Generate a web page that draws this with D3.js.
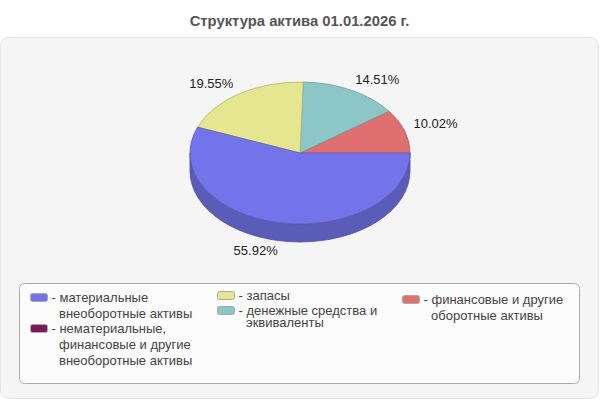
<!DOCTYPE html>
<html>
<head>
<meta charset="utf-8">
<style>
html, body {
  margin: 0;
  padding: 0;
  background: #fff;
}

svg {
  display: block;
}

text {
  font-family: "Liberation Sans", Arial, sans-serif;
}

.title {
  fill: #555;
  font-size: 14.8px;
  font-weight: bold;
  text-anchor: middle;
}

.pct {
  fill: #222;
  font-size: 13px;
  text-anchor: middle;
}

.legend-text {
  fill: #444;
  font-size: 13px;
}
</style>
</head>
<body>
<div id="chart"></div>
<script src="https://cdn.jsdelivr.net/npm/d3@7"></script>
<script>

var chartTitle = "Структура актива 01.01.2026 г.";

// pie runs counter-clockwise from 3 o'clock, same order as here
var sliceNames = ["финансовые и другие оборотные активы", "денежные средства и эквиваленты", "запасы", "материальные внеоборотные активы"];
var sliceValues = [10.02, 14.51, 19.55, 55.92];
var sliceLabels = ["10.02%", "14.51%", "19.55%", "55.92%"];

var legendLines = [
  ["- материальные", "внеоборотные активы"],
  ["- нематериальные,", "финансовые и другие", "внеоборотные активы"],
  ["- запасы"],
  ["- денежные средства и", "эквиваленты"],
  ["- финансовые и другие", "оборотные активы"]
];

var sliceColors = ["#e07070", "#8cc6c6", "#e6e691", "#7474ea"];
var legendColors = ["#7474ea", "#7a1a5a", "#e6e691", "#8cc6c6", "#e07070"];

// legend layout: swatch x, first baseline y, line height
var legendPos = [
  { x: 30.5, y: 302, lh: 16 },
  { x: 30.5, y: 333, lh: 16 },
  { x: 217.5, y: 300, lh: 16 },
  { x: 217.5, y: 315, lh: 12 },
  { x: 402.5, y: 304, lh: 16 }
];

var labelOffsets = [[31, -3], [26, -6], [-28, -6], [-24, 14]];

var width = 600,
    height = 400,
    cx = 300,
    cy = 153,
    rx = 110,
    ry = 71,
    depth = 18;

var svg = d3.select("#chart").append("svg")
    .attr("width", width)
    .attr("height", height);

svg.append("rect")
    .attr("x", 0.5)
    .attr("y", 37.5)
    .attr("width", 598)
    .attr("height", 361)
    .attr("rx", 8)
    .attr("fill", "#f5f5f5")
    .attr("stroke", "#e6e6e6");

svg.append("text")
    .attr("class", "title")
    .attr("x", 299.5)
    .attr("y", 26)
    .text(chartTitle);

// rim of the pie, only the front half shows
var rim = d3.path();
rim.moveTo(cx - rx, cy);
rim.lineTo(cx - rx, cy + depth);
var rimPath = rim.toString() +
    "A" + rx + "," + ry + " 0 0 0 " + (cx + rx) + "," + (cy + depth) +
    "L" + (cx + rx) + "," + cy +
    "A" + rx + "," + ry + " 0 0 1 " + (cx - rx) + "," + cy + "Z";

svg.append("path")
    .attr("d", rimPath)
    .attr("fill", "#5b5bb8")
    .attr("stroke", "#4d4da6")
    .attr("stroke-width", 0.8);

var pie = d3.pie()
    .sort(null)
    .startAngle(Math.PI / 2)
    .endAngle(-1.5 * Math.PI);

var arc = d3.arc().innerRadius(0).outerRadius(rx);

var arcs = pie(sliceValues);

// circle squashed into an ellipse, stroke stays even
var pieG = svg.append("g")
    .attr("transform", "translate(" + cx + "," + cy + ") scale(1," + (ry / rx) + ")");

pieG.selectAll("path")
    .data(arcs)
    .enter().append("path")
    .attr("d", arc)
    .attr("fill", function(d, i) { return sliceColors[i]; })
    .attr("stroke", function(d, i) { return d3.color(sliceColors[i]).darker(0.7); })
    .attr("stroke-width", 0.8)
    .attr("vector-effect", "non-scaling-stroke");

svg.selectAll("text.pct")
    .data(arcs)
    .enter().append("text")
    .attr("class", "pct")
    .attr("x", function(d, i) {
      var mid = (d.startAngle + d.endAngle) / 2;
      return cx + rx * Math.sin(mid) + labelOffsets[i][0];
    })
    .attr("y", function(d, i) {
      var mid = (d.startAngle + d.endAngle) / 2;
      var edge = cy - ry * Math.cos(mid);
      if (Math.cos(mid) < 0) edge += depth;
      return edge + labelOffsets[i][1];
    })
    .text(function(d, i) { return sliceLabels[i]; });

svg.append("rect")
    .attr("x", 19.5)
    .attr("y", 283.5)
    .attr("width", 560)
    .attr("height", 100)
    .attr("rx", 5)
    .attr("fill", "#fbfbfb")
    .attr("stroke", "#aaa");

var legend = svg.selectAll("g.legend")
    .data(legendLines)
    .enter().append("g")
    .attr("class", "legend")
    .attr("transform", function(d, i) {
      return "translate(" + legendPos[i].x + "," + legendPos[i].y + ")";
    });

legend.append("rect")
    .attr("x", 0)
    .attr("y", -8.5)
    .attr("width", 17)
    .attr("height", 8)
    .attr("rx", 2)
    .attr("fill", function(d, i) { return legendColors[i]; })
    .attr("stroke", "#aaa");

legend.each(function(lines, i) {
  var g = d3.select(this);
  lines.forEach(function(line, j) {
    g.append("text")
      .attr("class", "legend-text")
      .attr("x", j === 0 ? 21 : 28.5)
      .attr("y", j * legendPos[i].lh)
      .text(line);
  });
});

</script>
</body>
</html>
